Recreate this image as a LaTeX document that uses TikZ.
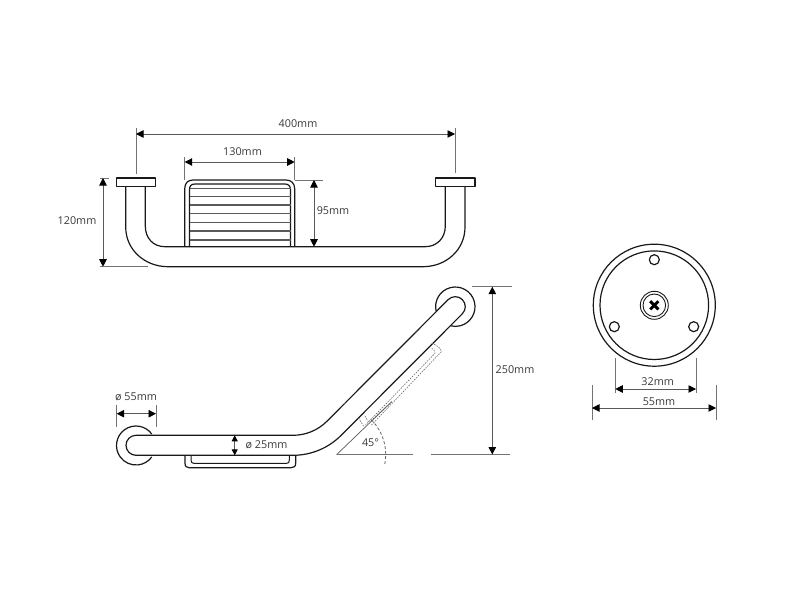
\documentclass[tikz,border=0pt]{standalone}
\usepackage{fontspec}
\setmainfont{Open Sans}
\usetikzlibrary{arrows.meta}
\tikzset{
  part/.style={draw=black!90,line width=1.2pt,line join=round},
  slat/.style={draw=black!65,line width=1.2pt},
  dim/.style={draw=black!65,line width=0.9pt,{Stealth[length=7.5pt,width=7.5pt,inset=0pt,black]}-{Stealth[length=7.5pt,width=7.5pt,inset=0pt,black]}},
  dimsmall/.style={draw=black!65,line width=0.9pt,{Stealth[length=6pt,width=6pt,inset=0pt,black]}-{Stealth[length=6pt,width=6pt,inset=0pt,black]}},
  ext/.style={draw=black!55,line width=0.8pt},
  hidden/.style={draw=black!60,line width=0.6pt,dash pattern=on 1.5pt off 1.2pt},
  lab/.style={inner sep=0pt,font=\fontsize{10.8}{12}\selectfont,text=black!78}
}
\begin{document}
\begin{tikzpicture}[x=1pt,y=-1pt]
\useasboundingbox (0,0) rectangle (800,600);
% ---- top view
\draw[part] (116.3,178) rectangle (155.7,186.3);
\draw[part] (435.3,178) rectangle (475,186.3);
\draw[part] (125.7,186.3) -- (125.7,227) .. controls (125.7,250) and (145,266.7) .. (168,266.7) -- (423,266.7) .. controls (446,266.7) and (465,250) .. (465,227) -- (465,186.3);
\draw[part] (145.3,186.3) -- (145.3,226) .. controls (145.3,238) and (153,246.7) .. (165,246.7) -- (425,246.7) .. controls (437,246.7) and (445.3,238) .. (445.3,226) -- (445.3,186.3);
\draw[part] (184.7,246.7) -- (184.7,189) .. controls (184.7,183) and (188,180) .. (193,180) -- (286,180) .. controls (291,180) and (294.7,183) .. (294.7,189) -- (294.7,246.7);
\draw[part] (189.5,246.7) -- (189.5,190) .. controls (189.5,186) and (191,184) .. (195,184) -- (285,184) .. controls (288.5,184) and (290.5,186) .. (290.5,190) -- (290.5,246.7);
\foreach \yy in {188.3,196.7,205,213.3,222.3,231,240}
  \draw[slat] (189.5,\yy) -- (290.5,\yy);
% dimensions top
\coordinate (a1) at (136,134); \coordinate (a2) at (455,134);
\draw[ext] (136,128) -- (136,174); \draw[ext] (455,128) -- (455,173);
\draw[dim] (a1) -- (a2);
\node[lab] (t400) at (298,124) {400mm};
\coordinate (b1) at (184.7,162); \coordinate (b2) at (294.7,162);
\draw[ext] (184.7,157) -- (184.7,180); \draw[ext] (294.7,157) -- (294.7,180);
\draw[dim] (b1) -- (b2);
\node[lab] (t130) at (242.5,152) {130mm};
\coordinate (c1) at (314,180); \coordinate (c2) at (314,246.7);
\draw[ext] (294.7,180) -- (323,180);
\draw[dim] (c1) -- (c2);
\node[lab] (t95) at (333,211) {95mm};
\coordinate (d1) at (103,178); \coordinate (d2) at (103,266.7);
\draw[ext] (100,178) -- (109,178); \draw[ext] (100,266.7) -- (148,266.7);
\draw[dim] (d1) -- (d2);
\node[lab] (t120) at (77,221) {120mm};
% ---- side view
\draw[part] (136,445.5) ++(-36:19.5) arc[start angle=-36,end angle=-324,radius=19.5];
\draw[part] (455.3,306.7) ++(165.5:19.7) arc[start angle=165.5,end angle=464.5,radius=19.7];
\draw[part] (448.2,299.6) arc[start angle=225,end angle=405,radius=10]
  -- (341.08,435.38) .. controls (328.33,448.13) and (311,455.3) .. (293,455.3)
  -- (136,455.3) arc[start angle=90,end angle=270,radius=10]
  -- (293,435.3) .. controls (305.73,435.3) and (317.94,430.24) .. (326.94,421.24) -- cycle;
% side basket
\draw[part] (185,455.3) -- (185,463) .. controls (185,466.5) and (186.5,467.7) .. (189,467.7) -- (291,467.7) .. controls (294,467.7) and (295.7,466.5) .. (295.7,463) -- (295.7,455.3);
\draw[part,line width=1pt] (191,455.3) -- (191,460) .. controls (191,462.5) and (192,463.3) .. (194,463.3) -- (286.5,463.3) .. controls (288.5,463.3) and (289.3,462.5) .. (289.3,460) -- (289.3,455.3);
% hidden basket at 45 degrees
\draw[hidden] (431.7,343.3) .. controls (436,344.5) and (441,348) .. (441.5,351.5) -- (371,425.5);
\draw[hidden] (431.7,348.3) .. controls (433.5,349) and (435,351) .. (435,353.3) -- (365.5,425);
\draw[hidden] (358.5,418) -- (363.5,426);
\draw[hidden] (365,416) -- (368.5,422);
\draw[hidden] (415.5,332.5) -- (418,330.5);
\draw[hidden] (344,404.5) -- (346,402);
% angle
\coordinate (apex) at (336.7,454.5);
\draw[draw=black!65,line width=0.7pt] (apex) -- (391.7,401.7);
\draw[hidden,line width=0.8pt] (371,421) -- (391.7,401.7);
\draw[ext] (apex) -- (413.3,454.5);
\draw[ext] (430.7,454.5) -- (510,454.5);
\draw[ext] (471.7,286.7) -- (512.3,286.7);
\draw[draw=black!60,line width=0.8pt,dash pattern=on 3pt off 2pt] (apex) ++(-45:49) arc[start angle=-45,end angle=12,radius=49];
\node[lab] (t45) at (370.5,443) {45°};
\coordinate (e1) at (492.3,286.7); \coordinate (e2) at (492.3,454.5);
\draw[dim] (e1) -- (e2);
\node[lab] (t250) at (515,369.5) {250mm};
\coordinate (f1) at (116.7,413.7); \coordinate (f2) at (156,413.7);
\draw[ext] (116.7,405) -- (116.7,426.7); \draw[ext] (156,405) -- (156,426.7);
\draw[dim] (f1) -- (f2);
\node[lab] (t55a) at (136,396.5) {ø 55mm};
\coordinate (g1) at (234.7,435.3); \coordinate (g2) at (234.7,455.3);
\draw[dimsmall] (g1) -- (g2);
\node[lab] (t25) at (266.5,445) {ø 25mm};
% ---- end view
\draw[part] (654.3,305.2) circle[radius=61];
\draw[part] (654.3,305.2) circle[radius=54.3];
\draw[part] (654.3,259.7) circle[radius=5];
\draw[part] (614.3,326.7) circle[radius=5];
\draw[part] (693.7,326.7) circle[radius=5];
\draw[part,line width=0.9pt] (654.3,305.3) circle[radius=14];
\draw[part,line width=0.9pt] (654.3,305.3) circle[radius=11.3];
\draw[draw=black,line width=2.9pt] (650.2,301.2) -- (658.4,309.4);
\draw[draw=black,line width=2.9pt] (650.2,309.4) -- (658.4,301.2);
\coordinate (h1) at (615.3,389); \coordinate (h2) at (696,389);
\draw[ext] (615.3,358) -- (615.3,392.7); \draw[ext] (696,358) -- (696,392.7);
\draw[dim] (h1) -- (h2);
\node[lab] (t32) at (657.7,381.7) {32mm};
\coordinate (k1) at (592,408); \coordinate (k2) at (716,408);
\draw[ext] (592,385) -- (592,420); \draw[ext] (716,385) -- (716,420);
\draw[dim] (k1) -- (k2);
\node[lab] (t55b) at (659,402) {55mm};
\end{tikzpicture}
\end{document}
